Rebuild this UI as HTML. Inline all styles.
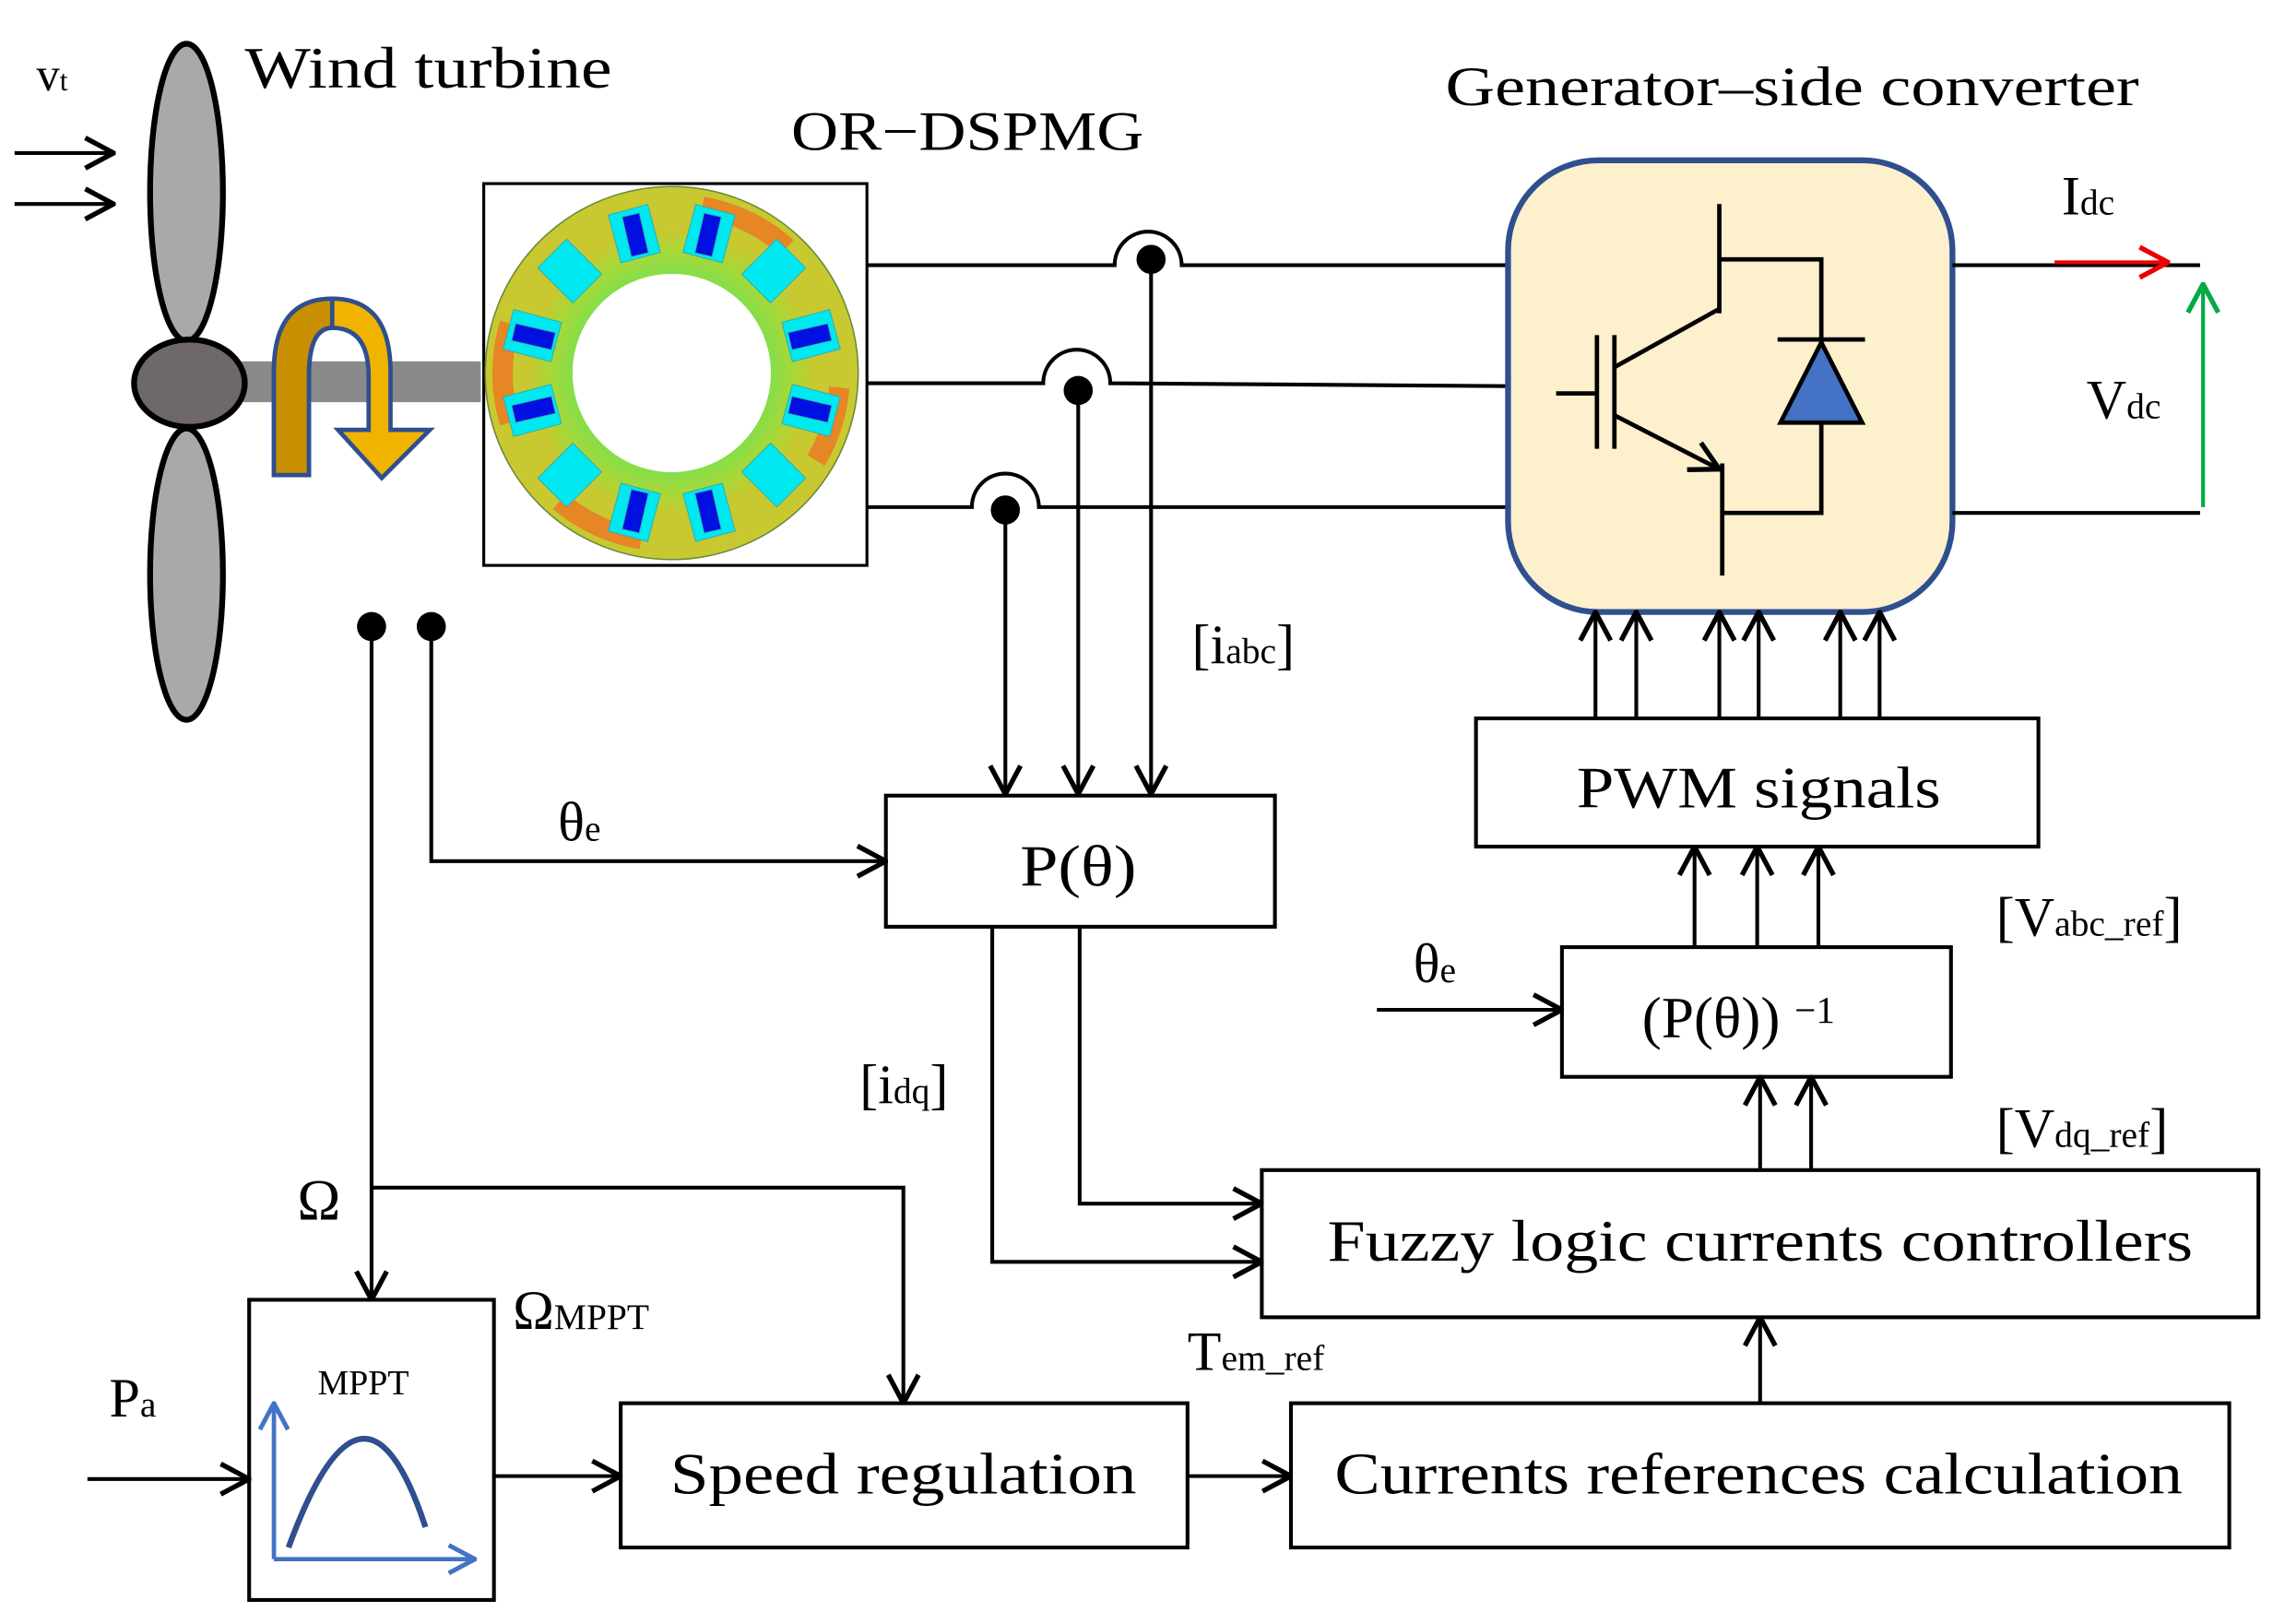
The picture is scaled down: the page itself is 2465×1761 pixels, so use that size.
<!DOCTYPE html>
<html><head><meta charset="utf-8"><style>
html,body{margin:0;padding:0;background:#fff}
svg{display:block}
text{font-family:"Liberation Serif",serif;fill:#000}
</style></head><body>
<svg width="2465" height="1761" viewBox="0 0 1560 1114.5" preserveAspectRatio="none" xmlns="http://www.w3.org/2000/svg">
<defs>
<marker id="ar" viewBox="0 0 20 20" refX="19" refY="10" markerWidth="26" markerHeight="26" orient="auto" markerUnits="userSpaceOnUse"><path d="M4,2 L19,10 L4,18" fill="none" stroke="#000" stroke-width="2.6"/></marker>
<marker id="arR" viewBox="0 0 20 20" refX="19" refY="10" markerWidth="26" markerHeight="26" orient="auto" markerUnits="userSpaceOnUse"><path d="M4,2 L19,10 L4,18" fill="none" stroke="#e00" stroke-width="2.6"/></marker>
<marker id="arG" viewBox="0 0 20 20" refX="19" refY="10" markerWidth="26" markerHeight="26" orient="auto" markerUnits="userSpaceOnUse"><path d="M4,2 L19,10 L4,18" fill="none" stroke="#0a4" stroke-width="2.6"/></marker>
<marker id="arB" viewBox="0 0 20 20" refX="19" refY="10" markerWidth="24" markerHeight="24" orient="auto" markerUnits="userSpaceOnUse"><path d="M4,2 L19,10 L4,18" fill="none" stroke="#4472c4" stroke-width="2.6"/></marker>
<radialGradient id="rg" cx="0.5" cy="0.5" r="0.5">
<stop offset="0.53" stop-color="#40e8d8"/><stop offset="0.64" stop-color="#78e050"/><stop offset="0.85" stop-color="#a8d838"/><stop offset="1" stop-color="#c8c830"/></radialGradient>
</defs>
<g stroke="#000" stroke-width="2.6" fill="none">
<line x1="10" y1="105" x2="78" y2="105" marker-end="url(#ar)"/>
<line x1="10" y1="140" x2="78" y2="140" marker-end="url(#ar)"/>
</g>
<text x="25" y="62" font-size="32">v<tspan font-size="20">t</tspan></text>
<text x="168" y="60" font-size="40" textLength="252" lengthAdjust="spacingAndGlyphs">Wind turbine</text>
<rect x="160" y="248" width="170" height="28" fill="#8a8a8a"/>
<ellipse cx="128" cy="132" rx="25" ry="102" fill="#a9a9a9" stroke="#000" stroke-width="4"/>
<ellipse cx="128" cy="394" rx="25" ry="100" fill="#a9a9a9" stroke="#000" stroke-width="4"/>
<ellipse cx="130" cy="263" rx="38" ry="30" fill="#6e6868" stroke="#000" stroke-width="4"/>
<path d="M188,326 L188,255 Q188,205 228,205 Q268,205 268,255 L268,295 L295,295 L262,328 L232,295 L253,295 L253,258 Q253,225 228,225 Q212,225 212,258 L212,326 Z" fill="#f0b400" stroke="#2f4f8f" stroke-width="3"/>
<path d="M188,326 L188,255 Q188,205 228,205 L228,225 Q212,225 212,258 L212,326 Z" fill="#c89000" stroke="#2f4f8f" stroke-width="3"/>
<rect x="332" y="126" width="263" height="262" fill="#fff" stroke="#000" stroke-width="2"/>
<circle cx="461" cy="256" r="98" fill="none" stroke="url(#rg)" stroke-width="60"/>
<g fill="none" stroke="#f07020" stroke-width="14" opacity="0.75">
<path d="M350,222 A116,116 0 0 0 350,290"/>
<path d="M576,266 A116,116 0 0 1 560,316"/>
<path d="M482,142 A116,116 0 0 1 540,170"/>
<path d="M440,370 A116,116 0 0 1 384,344"/>
</g>
<circle cx="461" cy="256" r="128" fill="none" stroke="#6a8a3a" stroke-width="1"/>
<g fill="#00e8f0" stroke="#3aa" stroke-width="0.6">
<g transform="translate(461,256)">
<rect x="-14" y="-116" width="28" height="34" transform="rotate(-15)"/>
<rect x="-14" y="-116" width="28" height="34" transform="rotate(15)"/>
<rect x="-14" y="-116" width="28" height="34" transform="rotate(45)"/>
<rect x="-14" y="-116" width="28" height="34" transform="rotate(75)"/>
<rect x="-14" y="-116" width="28" height="34" transform="rotate(105)"/>
<rect x="-14" y="-116" width="28" height="34" transform="rotate(135)"/>
<rect x="-14" y="-116" width="28" height="34" transform="rotate(165)"/>
<rect x="-14" y="-116" width="28" height="34" transform="rotate(195)"/>
<rect x="-14" y="-116" width="28" height="34" transform="rotate(225)"/>
<rect x="-14" y="-116" width="28" height="34" transform="rotate(255)"/>
<rect x="-14" y="-116" width="28" height="34" transform="rotate(285)"/>
<rect x="-14" y="-116" width="28" height="34" transform="rotate(315)"/>
<rect x="-9" y="-112" width="12" height="28" fill="#0010e0" transform="rotate(-13)"/>
<rect x="-3" y="-112" width="12" height="28" fill="#0010e0" transform="rotate(13)"/>
<rect x="-9" y="-112" width="12" height="28" fill="#0010e0" transform="rotate(77)"/>
<rect x="-3" y="-112" width="12" height="28" fill="#0010e0" transform="rotate(103)"/>
<rect x="-9" y="-112" width="12" height="28" fill="#0010e0" transform="rotate(167)"/>
<rect x="-3" y="-112" width="12" height="28" fill="#0010e0" transform="rotate(193)"/>
<rect x="-9" y="-112" width="12" height="28" fill="#0010e0" transform="rotate(257)"/>
<rect x="-3" y="-112" width="12" height="28" fill="#0010e0" transform="rotate(283)"/>
</g></g>
<circle cx="461" cy="256" r="68" fill="#fff"/>
<text x="543" y="103" font-size="38" textLength="242" lengthAdjust="spacingAndGlyphs">OR−DSPMG</text>
<g stroke="#000" stroke-width="2.6" fill="none">
<path d="M595,182 L765,182 A23,23 0 0 1 811,182 L1035,182"/>
<path d="M595,263 L716,263 A23,23 0 0 1 762,263 L1035,265"/>
<path d="M595,348 L667,348 A23,23 0 0 1 713,348 L1035,348"/>
<line x1="790" y1="178" x2="790" y2="545" marker-end="url(#ar)"/>
<line x1="740" y1="268" x2="740" y2="545" marker-end="url(#ar)"/>
<line x1="690" y1="350" x2="690" y2="545" marker-end="url(#ar)"/>
</g>
<circle cx="790" cy="178" r="10"/><circle cx="740" cy="268" r="10"/><circle cx="690" cy="350" r="10"/>
<text x="818" y="455" font-size="38">[i<tspan font-size="25">abc</tspan>]</text>
<text x="992" y="72" font-size="38" textLength="476" lengthAdjust="spacingAndGlyphs">Generator–side converter</text>
<rect x="1035" y="110" width="305" height="310" rx="62" fill="#fdf0cc" stroke="#2f4f8f" stroke-width="4"/>
<g stroke="#000" stroke-width="3" fill="none">
<line x1="1180" y1="140" x2="1180" y2="215"/>
<line x1="1108" y1="252" x2="1180" y2="212"/>
<line x1="1108" y1="230" x2="1108" y2="308"/>
<line x1="1096" y1="230" x2="1096" y2="308"/>
<line x1="1068" y1="270" x2="1096" y2="270"/>
<line x1="1108" y1="285" x2="1180" y2="322" marker-end="url(#ar)"/>
<line x1="1182" y1="318" x2="1182" y2="395"/>
<polyline points="1180,178 1250,178 1250,233"/>
<polyline points="1250,290 1250,352 1182,352"/>
<line x1="1220" y1="233" x2="1280" y2="233"/>
</g>
<polygon points="1222,290 1278,290 1250,235" fill="#4472c4" stroke="#000" stroke-width="3"/>
<g stroke-width="2.6" fill="none">
<line x1="1340" y1="182" x2="1510" y2="182" stroke="#000"/>
<line x1="1340" y1="352" x2="1510" y2="352" stroke="#000"/>
<line x1="1410" y1="180" x2="1488" y2="180" stroke="#e00" marker-end="url(#arR)"/>
<line x1="1512" y1="348" x2="1512" y2="195" stroke="#0a4" marker-end="url(#arG)"/>
</g>
<text x="1415" y="147" font-size="38">I<tspan font-size="25">dc</tspan></text>
<text x="1432" y="287" font-size="38">V<tspan font-size="25">dc</tspan></text>
<g stroke="#000" stroke-width="2.6" fill="none">
<rect x="1013" y="493" width="386" height="88"/>
<line x1="1095" y1="493" x2="1095" y2="420" marker-end="url(#ar)"/>
<line x1="1123" y1="493" x2="1123" y2="420" marker-end="url(#ar)"/>
<line x1="1180" y1="493" x2="1180" y2="420" marker-end="url(#ar)"/>
<line x1="1207" y1="493" x2="1207" y2="420" marker-end="url(#ar)"/>
<line x1="1263" y1="493" x2="1263" y2="420" marker-end="url(#ar)"/>
<line x1="1290" y1="493" x2="1290" y2="420" marker-end="url(#ar)"/>
<rect x="1072" y="650" width="267" height="89"/>
<line x1="1163" y1="650" x2="1163" y2="581" marker-end="url(#ar)"/>
<line x1="1206" y1="650" x2="1206" y2="581" marker-end="url(#ar)"/>
<line x1="1248" y1="650" x2="1248" y2="581" marker-end="url(#ar)"/>
<line x1="945" y1="693" x2="1072" y2="693" marker-end="url(#ar)"/>
<rect x="866" y="803" width="684" height="101"/>
<line x1="1208" y1="803" x2="1208" y2="739" marker-end="url(#ar)"/>
<line x1="1243" y1="803" x2="1243" y2="739" marker-end="url(#ar)"/>
<rect x="886" y="963" width="644" height="99"/>
<line x1="1208" y1="963" x2="1208" y2="904" marker-end="url(#ar)"/>
<rect x="426" y="963" width="389" height="99"/>
<line x1="815" y1="1013" x2="886" y2="1013" marker-end="url(#ar)"/>
<rect x="171" y="892" width="168" height="206"/>
<line x1="339" y1="1013" x2="426" y2="1013" marker-end="url(#ar)"/>
<line x1="60" y1="1015" x2="171" y2="1015" marker-end="url(#ar)"/>
<rect x="608" y="546" width="267" height="90"/>
<polyline points="681,636 681,866 866,866" marker-end="url(#ar)"/>
<polyline points="741,636 741,826 866,826" marker-end="url(#ar)"/>
<polyline points="296,430 296,591 608,591" marker-end="url(#ar)"/>
<line x1="255" y1="430" x2="255" y2="892" marker-end="url(#ar)"/>
<polyline points="255,815 620,815 620,963" marker-end="url(#ar)"/>
</g>
<circle cx="255" cy="430" r="10"/><circle cx="296" cy="430" r="10"/>
<g fill="none" stroke-width="3">
<line x1="188" y1="1070" x2="188" y2="963" stroke="#4472c4" marker-end="url(#arB)"/>
<line x1="188" y1="1070" x2="326" y2="1070" stroke="#4472c4" marker-end="url(#arB)"/>
<path d="M198,1062 Q250,920 292,1048" stroke="#2f4f8f" stroke-width="4"/>
</g>
<text x="218" y="957" font-size="24">MPPT</text>
<text x="1082" y="554" font-size="40" textLength="250" lengthAdjust="spacingAndGlyphs">PWM signals</text>
<text x="1127" y="712" font-size="40">(P(θ)) <tspan font-size="26" dy="-10">−1</tspan></text>
<text x="700" y="608" font-size="40" textLength="80" lengthAdjust="spacingAndGlyphs">P(θ)</text>
<text x="911" y="865" font-size="40" textLength="594" lengthAdjust="spacingAndGlyphs">Fuzzy logic currents controllers</text>
<text x="916" y="1025" font-size="40" textLength="582" lengthAdjust="spacingAndGlyphs">Currents references calculation</text>
<text x="460" y="1025" font-size="40" textLength="320" lengthAdjust="spacingAndGlyphs">Speed regulation</text>
<text x="383" y="577" font-size="38">θ<tspan font-size="25">e</tspan></text>
<text x="970" y="674" font-size="38">θ<tspan font-size="25">e</tspan></text>
<text x="1370" y="642" font-size="38">[V<tspan font-size="25">abc_ref</tspan>]</text>
<text x="1370" y="787" font-size="38">[V<tspan font-size="25">dq_ref</tspan>]</text>
<text x="590" y="757" font-size="38">[i<tspan font-size="25">dq</tspan>]</text>
<text x="204" y="837" font-size="40">Ω</text>
<text x="352" y="912" font-size="38">Ω<tspan font-size="25">MPPT</tspan></text>
<text x="815" y="940" font-size="38">T<tspan font-size="25">em_ref</tspan></text>
<text x="75" y="972" font-size="38">P<tspan font-size="25">a</tspan></text>
</svg>
</body></html>
